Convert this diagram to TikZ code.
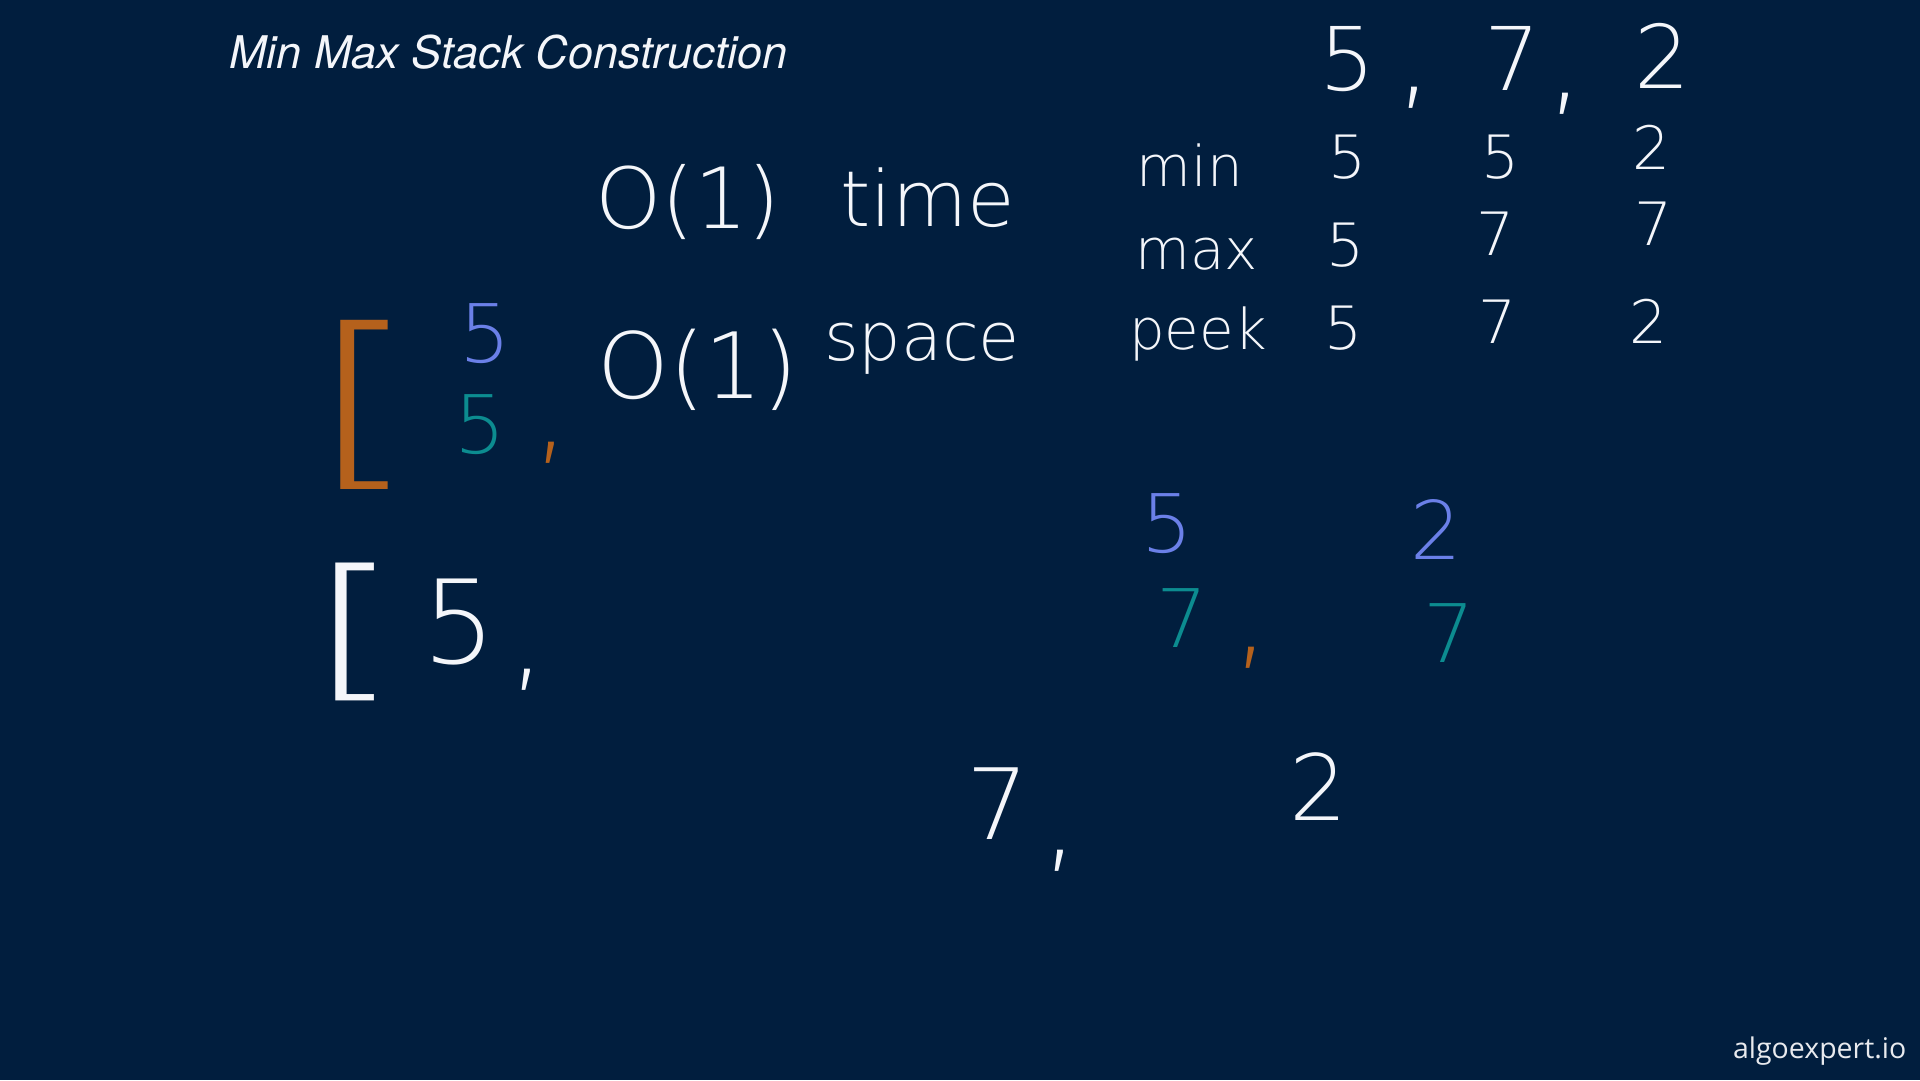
\documentclass[tikz,border=0pt]{standalone}
\usepackage{fontspec}
\setmainfont{Open Sans}
\newfontfamily\titlefont{TeX Gyre Heros}
\newfontfamily\handfont{DejaVuSans-ExtraLight.ttf}
\usetikzlibrary{positioning}
\definecolor{board}{HTML}{011E3E}
\definecolor{chalk}{HTML}{F4F6FA}
\definecolor{penblue}{HTML}{6B80E8}
\definecolor{penteal}{HTML}{0C8C90}
\definecolor{penorange}{HTML}{B5611C}
\newcommand{\pensize}[1]{\fontsize{#1}{#1}\selectfont}

\begin{document}
\begin{tikzpicture}[
    x=0.1mm, y=-0.1mm,
    ink/.style={text=chalk, inner sep=0pt, font=\handfont},
    blueink/.style={ink, text=penblue},
    tealink/.style={ink, text=penteal},
    orangeink/.style={ink, text=penorange},
]
\fill[board] (0,0) rectangle (1920,1080);
\useasboundingbox (0,0) rectangle (1920,1080);

% Title
\node[anchor=west, text=chalk, font=\titlefont\itshape\pensize{12.8pt}] (title) at (217,52) {Min Max Stack Construction};

% ---- Input sequence ----
\node[ink, anchor=base, font=\handfont\pensize{25pt}] (in1) at (1347,90) {5};
\node[ink, font=\handfont\pensize{34pt}] (c1) at (1414,98) {,};
\node[ink, anchor=base, font=\handfont\pensize{25pt}] (in2) at (1512,90) {7};
\node[ink, font=\handfont\pensize{34pt}] (c2) at (1565,104) {,};
\node[ink, anchor=base, font=\handfont\pensize{25pt}] (in3) at (1662,88) {2};

% ---- Complexity ----
\node[ink, anchor=base, font=\handfont\pensize{24pt}] (otime) at (688,228) {O(1)};
\node[ink, anchor=base, font=\handfont\pensize{22pt}] (time) at (928,226) {time};
\node[ink, anchor=base, font=\handfont\pensize{26pt}] (ospace) at (698,398) {O(1)};
\node[ink, anchor=base, font=\handfont\pensize{19pt}] (space) at (922,360) {space};

% ---- min / max / peek table ----
\node[ink, anchor=base, font=\handfont\pensize{16pt}] (lmin) at (1190,186) {min};
\node[ink, anchor=base, font=\handfont\pensize{16pt}] (lmax) at (1197,269) {max};
\node[ink, anchor=base, font=\handfont\pensize{16pt}] (lpeek) at (1198,349) {peek};

\node[ink, anchor=base, font=\handfont\pensize{17pt}] (min1) at (1347,178) {5};
\node[ink, anchor=base, font=\handfont\pensize{17pt}] (min2) at (1500,178) {5};
\node[ink, anchor=base, font=\handfont\pensize{17pt}] (min3) at (1651,169) {2};
\node[ink, anchor=base, font=\handfont\pensize{17pt}] (max1) at (1345,266) {5};
\node[ink, anchor=base, font=\handfont\pensize{17pt}] (max2) at (1495,255) {7};
\node[ink, anchor=base, font=\handfont\pensize{17pt}] (max3) at (1653,245) {7};
\node[ink, anchor=base, font=\handfont\pensize{17pt}] (peek1) at (1343,349) {5};
\node[ink, anchor=base, font=\handfont\pensize{17pt}] (peek2) at (1497,343) {7};
\node[ink, anchor=base, font=\handfont\pensize{17pt}] (peek3) at (1648,343) {2};

% ---- Stack of min/max pairs ----
\node[orangeink, font=\handfont\pensize{54pt}, xscale=1.5, transform shape] (obrk) at (364,405) {[};
\node[blueink, font=\handfont\pensize{23pt}] (smin) at (485,334) {5};
\node[tealink, font=\handfont\pensize{23pt}] (smax) at (480,425) {5};
\node[orangeink, font=\handfont\pensize{34pt}] (oc1) at (551,453) {,};

\node[ink, font=\handfont\pensize{44pt}, xscale=1.5, transform shape] (wbrk) at (355,632) {[};
\node[ink, font=\handfont\pensize{33pt}] (w5) at (459,622) {5};
\node[ink, font=\handfont\pensize{34pt}] (wc1) at (527,680) {,};

\node[blueink, font=\handfont\pensize{23pt}] (pmin1) at (1167,524) {5};
\node[blueink, font=\handfont\pensize{23pt}] (pmin2) at (1436,529) {2};
\node[tealink, font=\handfont\pensize{23pt}] (pmax1) at (1182,618) {7};
\node[orangeink, font=\handfont\pensize{34pt}] (oc2) at (1251,658) {,};
\node[tealink, font=\handfont\pensize{23pt}] (pmax2) at (1449,633) {7};

\node[ink, font=\handfont\pensize{28pt}] (w7) at (998,804) {7};
\node[ink, font=\handfont\pensize{34pt}] (wc2) at (1060,861) {,};
\node[ink, font=\handfont\pensize{26pt}] (w2) at (1319,787) {2};

% Logo
\node[anchor=east, text=chalk!90!gray, inner sep=0pt, font=\pensize{8.1pt}] (logo) at (1907,1051) {algoexpert.io};
\end{tikzpicture}
\end{document}
